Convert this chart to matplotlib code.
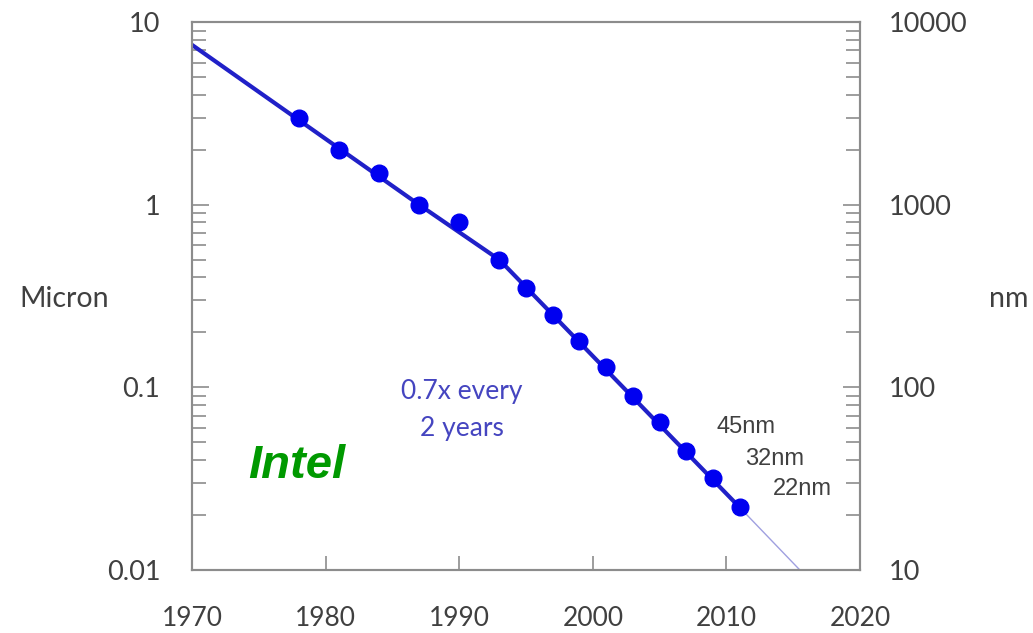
import numpy as np
import matplotlib.pyplot as plt
from matplotlib.ticker import LogLocator, NullFormatter

# process node (micron) per generation
years = [1978, 1981, 1984, 1987, 1990, 1993, 1995, 1997, 1999, 2001, 2003, 2005, 2007, 2009, 2011]
microns = [3.0, 2.0, 1.5, 1.0, 0.8, 0.5, 0.35, 0.25, 0.18, 0.13, 0.09, 0.065, 0.045, 0.032, 0.022]

# trend line and its projection
trend_years = [1970, 1987, 1993, 2011]
trend_microns = [7.5, 1.0, 0.5, 0.022]
proj_years = [2011, 2015.5]
proj_microns = [0.022, 0.01]

node_labels = ['45nm', '32nm', '22nm']

tick_font = 'Lato'
gray = '#8c8c8c'
text_gray = '#404040'

fig = plt.figure(figsize=(10.33, 6.33), dpi=100)
ax = fig.add_axes([0.186, 0.0995, 0.6465, 0.8655])

ax.plot(trend_years, trend_microns, color='#2020c8', lw=3.0, zorder=2)
ax.plot(proj_years, proj_microns, color='#a0a0e0', lw=1.0, zorder=2)
ax.plot(years, microns, 'o', color='#0000f0', ms=12, zorder=3)

ax.set_yscale('log')
ax.set_xlim(1970, 2020)
ax.set_ylim(0.01, 10)
ax.set_xticks([1970, 1980, 1990, 2000, 2010, 2020])
ax.set_yticks([0.01, 0.1, 1, 10])
ax.set_yticklabels(['0.01', '0.1', '1', '10'])
ax.yaxis.set_minor_locator(LogLocator(base=10, subs=np.arange(2, 10)))
ax.yaxis.set_minor_formatter(NullFormatter())

for s in ax.spines.values():
    s.set_color(gray)
    s.set_linewidth(1.5)

ax.tick_params(axis='x', which='major', direction='in', length=10, width=1.2, color=gray,
               labelsize=19, labelcolor=text_gray, pad=26, top=False)
ax.tick_params(axis='y', which='major', direction='in', length=12, width=1.2, color=gray,
               labelsize=19.5, labelcolor=text_gray, pad=23)
ax.tick_params(axis='y', which='minor', direction='in', length=10, width=1.2, color=gray)
for lab in ax.get_xticklabels() + ax.get_yticklabels():
    lab.set_fontfamily(tick_font)

# nm scale on the right
ax2 = ax.twinx()
ax2.set_yscale('log')
ax2.set_ylim(10, 10000)
ax2.set_yticks([10, 100, 1000, 10000])
ax2.set_yticklabels(['10', '100', '1000', '10000'])
ax2.yaxis.set_minor_locator(LogLocator(base=10, subs=np.arange(2, 10)))
ax2.yaxis.set_minor_formatter(NullFormatter())
ax2.tick_params(axis='y', which='major', direction='in', length=12, width=1.2, color=gray,
                labelsize=19.5, labelcolor=text_gray, pad=21)
ax2.tick_params(axis='y', which='minor', direction='in', length=10, width=1.2, color=gray)
for s in ax2.spines.values():
    s.set_color(gray)
    s.set_linewidth(1.5)
for lab in ax2.get_yticklabels():
    lab.set_fontfamily(tick_font)

fig.text(0.062, 0.527, 'Micron', fontsize=20.5, family=tick_font, color=text_gray,
         ha='center', va='center')
fig.text(0.977, 0.527, 'nm', fontsize=20.5, family=tick_font, color=text_gray,
         ha='center', va='center')

ax.text(1990.2, 0.075, '0.7x every\n2 years', fontsize=19, family=tick_font, color='#4545c0',
        ha='center', va='center', linespacing=1.6)
ax.text(1977.8, 0.037, 'Intel', fontsize=34, family='Liberation Sans', weight='bold',
        style='italic', color='#009900', ha='center', va='center')

node_pos = [(2011.5, 0.0604), (2013.6, 0.0405), (2015.7, 0.0277)]
for lab, (x, y) in zip(node_labels, node_pos):
    ax.text(x, y, lab, fontsize=17, family='Liberation Sans', color=text_gray,
            ha='center', va='center')

fig.savefig('out.png', dpi=100)
